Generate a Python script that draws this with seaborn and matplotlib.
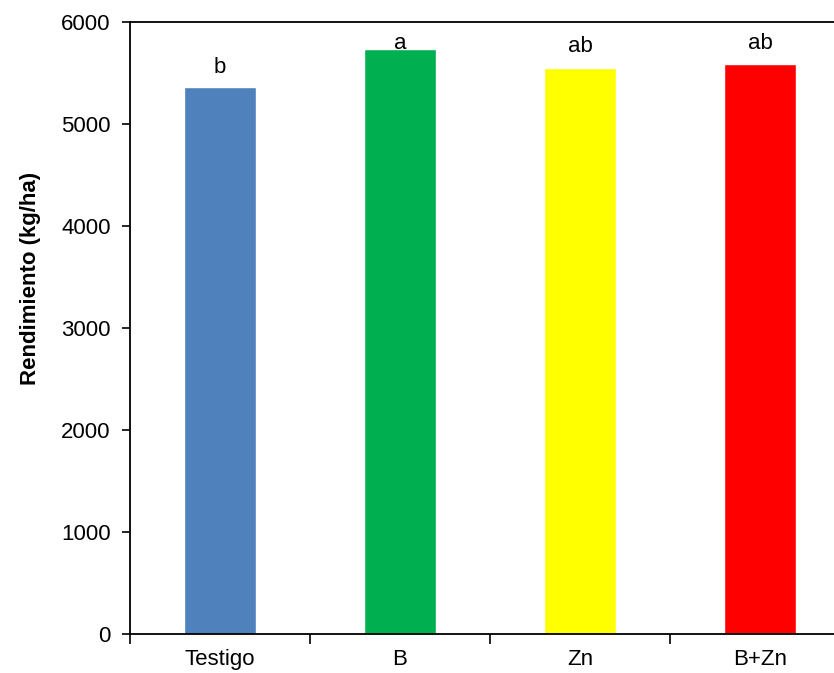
import numpy as np
import pandas as pd
import matplotlib
matplotlib.use('Agg')
import matplotlib.pyplot as plt
import seaborn as sns

# Data
tratamientos = ['Testigo', 'B', 'Zn', 'B+Zn']
rendimiento = [5360, 5732, 5546, 5588]
letras = ['b', 'a', 'ab', 'ab']
altura_letras = [5556, 5791, 5755, 5791]
colores = ['#4F81BD', '#00B050', '#FFFF00', '#FF0000']

df = pd.DataFrame({'tratamiento': tratamientos, 'rendimiento': rendimiento})

sns.set_style('white')
plt.rcParams['font.family'] = ['Liberation Sans', 'DejaVu Sans']
plt.rcParams['text.color'] = 'black'
plt.rcParams['axes.labelcolor'] = 'black'
plt.rcParams['xtick.color'] = 'black'
plt.rcParams['ytick.color'] = 'black'

fig = plt.figure(figsize=(8.34, 6.73), dpi=100)
ax = fig.add_axes([130 / 834, 1 - 634 / 673, 720 / 834, 612.3 / 673])

sns.barplot(data=df, x='tratamiento', y='rendimiento', hue='tratamiento',
            palette=colores, width=0.4, legend=False, ax=ax, saturation=1)

# significance letters above the bars
for i, (txt, h) in enumerate(zip(letras, altura_letras)):
    ax.text(i, h, txt, ha='center', va='center', fontsize=16)

ax.set_ylim(0, 6000)
ax.set_xlim(-0.5, 3.5)
ax.set_yticks(np.arange(0, 6001, 1000))
ax.set_ylabel('Rendimiento (kg/ha)', fontsize=16, fontweight='bold')
ax.yaxis.set_label_coords(-0.124, 0.581)
ax.set_xlabel('')

# category separators as ticks on the x axis
ax.set_xticks(np.arange(-0.5, 3.6, 1.0), minor=True)
ax.tick_params(axis='x', which='minor', direction='out', length=7, width=1.2, bottom=True)
ax.tick_params(axis='x', which='major', length=0, labelsize=16, pad=11)
ax.tick_params(axis='y', direction='out', length=6, width=1.2, left=True, labelsize=16, pad=8)

for s in ['left', 'bottom', 'top']:
    ax.spines[s].set_color('black')
    ax.spines[s].set_linewidth(1.3)
ax.spines['right'].set_visible(False)

fig.savefig('out.png', dpi=100)
